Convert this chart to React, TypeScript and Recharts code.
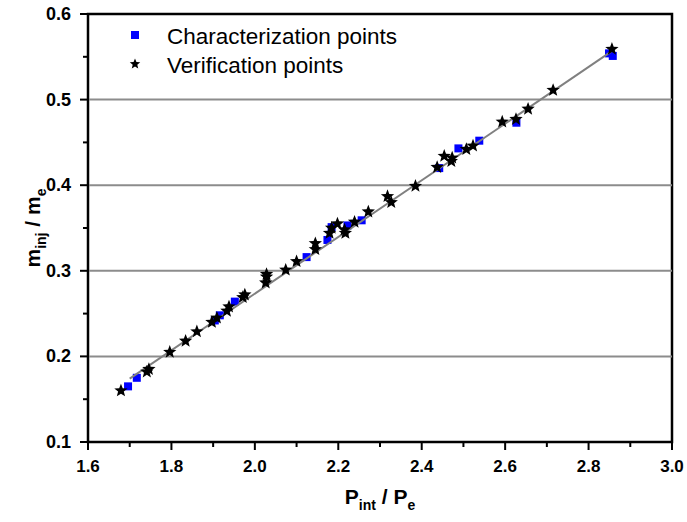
import React from "react";
import {
  ScatterChart,
  Scatter,
  XAxis,
  YAxis,
  ReferenceLine,
  ReferenceArea,
} from "recharts";

// Characterization points (blue squares)
const charX = [1.696, 1.717, 1.904, 1.916, 1.952, 2.124, 2.174, 2.184, 2.222, 2.256, 2.442, 2.488, 2.538, 2.627, 2.849, 2.858];
const charY = [0.165, 0.175, 0.242, 0.248, 0.264, 0.316, 0.336, 0.351, 0.353, 0.359, 0.420, 0.443, 0.452, 0.473, 0.554, 0.551];

// Verification points (black stars)
const verX = [1.679, 1.741, 1.746, 1.796, 1.834, 1.861, 1.897, 1.909, 1.933, 1.938, 1.971, 1.976, 2.026, 2.028, 2.028, 2.074, 2.100, 2.145, 2.145, 2.179, 2.184, 2.198, 2.215, 2.217, 2.239, 2.272, 2.318, 2.327, 2.385, 2.437, 2.454, 2.471, 2.473, 2.507, 2.523, 2.593, 2.626, 2.655, 2.715, 2.856];
const verY = [0.160, 0.182, 0.185, 0.205, 0.218, 0.229, 0.240, 0.245, 0.253, 0.258, 0.269, 0.272, 0.286, 0.293, 0.296, 0.301, 0.311, 0.325, 0.332, 0.344, 0.350, 0.355, 0.348, 0.344, 0.357, 0.369, 0.387, 0.380, 0.399, 0.421, 0.434, 0.428, 0.432, 0.442, 0.446, 0.474, 0.477, 0.489, 0.511, 0.559];

// Linear fit line end points
const fitX = [1.7, 2.854];
const fitY = [0.174, 0.556];

// Axis ticks
const xTicks = [1.6, 1.7, 1.8, 1.9, 2.0, 2.1, 2.2, 2.3, 2.4, 2.5, 2.6, 2.7, 2.8, 2.9, 3.0];
const xMajor = ["1.6", "1.8", "2.0", "2.2", "2.4", "2.6", "2.8", "3.0"];
const yTicks = [0.1, 0.15, 0.2, 0.25, 0.3, 0.35, 0.4, 0.45, 0.5, 0.55, 0.6];
const yMajor = ["0.1", "0.2", "0.3", "0.4", "0.5", "0.6"];
const gridY = [0.2, 0.3, 0.4, 0.5];

const charData = charX.map((x, i) => ({ x, y: charY[i] }));
const verData = verX.map((x, i) => ({ x, y: verY[i] }));
const fitData = fitX.map((x, i) => ({ x, y: fitY[i] }));

const FONT = "'Liberation Sans', Arial, sans-serif";

const starPoints = (cx: number, cy: number, R: number, r: number) => {
  const pts: string[] = [];
  for (let i = 0; i < 10; i++) {
    const rad = i % 2 === 0 ? R : r;
    const a = -Math.PI / 2 + (i * Math.PI) / 5;
    pts.push(`${cx + rad * Math.cos(a)},${cy + rad * Math.sin(a)}`);
  }
  return pts.join(" ");
};

const SquareShape = (p: any) => (
  <rect x={p.cx - 4} y={p.cy - 4} width={8} height={8} fill="#0000ff" />
);
const StarShape = (p: any) => (
  <polygon points={starPoints(p.cx, p.cy, 7, 3)} fill="#000" />
);
const NoShape = () => <g />;

const XTick = (p: any) => {
  const v = Number(p.payload.value).toFixed(1);
  const major = xMajor.includes(v);
  return (
    <g>
      <line x1={p.x} x2={p.x} y1={p.y} y2={p.y + (major ? 8 : 5)} stroke="#000" strokeWidth={2} />
      {major && (
        <text x={p.x} y={p.y + 30} textAnchor="middle" fontFamily={FONT} fontWeight="bold" fontSize={17} fill="#000">
          {v}
        </text>
      )}
    </g>
  );
};

const YTick = (p: any) => {
  const v = Number(p.payload.value).toFixed(2);
  const s = Number(p.payload.value).toFixed(1);
  const major = yMajor.includes(s) && v.endsWith("0");
  return (
    <g>
      <line x1={p.x - (major ? 8 : 5)} x2={p.x} y1={p.y} y2={p.y} stroke="#000" strokeWidth={2} />
      {major && (
        <text x={p.x - 17} y={p.y + 6} textAnchor="end" fontFamily={FONT} fontWeight="bold" fontSize={18} fill="#000">
          {s}
        </text>
      )}
    </g>
  );
};

const XTitle = (props: any) => {
  const vb = props.viewBox || {};
  const cx = (vb.x || 0) + (vb.width || 0) / 2;
  const y = (vb.y || 0) + 62;
  return (
    <text x={cx} y={y} textAnchor="middle" fontFamily={FONT} fontWeight="bold" fontSize={21} fill="#000">
      <tspan>P</tspan>
      <tspan fontSize={14} dy={6}>int</tspan>
      <tspan dy={-6}> / P</tspan>
      <tspan fontSize={14} dy={6}>e</tspan>
    </text>
  );
};

const YTitle = (props: any) => {
  const vb = props.viewBox || {};
  const cy = (vb.y || 0) + (vb.height || 0) / 2;
  const x = 40;
  return (
    <text
      x={x}
      y={cy}
      textAnchor="middle"
      transform={`rotate(-90 ${x} ${cy})`}
      fontFamily={FONT}
      fontWeight="bold"
      fontSize={21}
      fill="#000"
    >
      <tspan>m</tspan>
      <tspan fontSize={14} dy={6}>inj</tspan>
      <tspan dy={-6}> / m</tspan>
      <tspan fontSize={14} dy={6}>e</tspan>
    </text>
  );
};

export default function App() {
  return (
    <div style={{ position: "absolute", left: 0, top: 0, width: 687, height: 522, background: "#fff" }}>
      <ScatterChart width={687} height={522} margin={{ top: 14, right: 15, bottom: 0, left: 0 }}>
        <XAxis
          type="number"
          dataKey="x"
          domain={[1.6, 3.0]}
          ticks={xTicks}
          interval={0}
          height={80}
          tickSize={0}
          tickMargin={0}
          tickLine={false}
          axisLine={{ stroke: "#000", strokeWidth: 2 }}
          tick={<XTick />}
          allowDataOverflow
          label={<XTitle />}
        />
        <YAxis
          type="number"
          dataKey="y"
          domain={[0.1, 0.6]}
          ticks={yTicks}
          interval={0}
          width={88}
          tickSize={0}
          tickMargin={0}
          tickLine={false}
          axisLine={{ stroke: "#000", strokeWidth: 2 }}
          tick={<YTick />}
          allowDataOverflow
          label={<YTitle />}
        />
        {gridY.map((g) => (
          <ReferenceLine key={g} y={g} stroke="#8c8c8c" strokeWidth={2} />
        ))}
        <Scatter name="Characterization points" data={charData} shape={<SquareShape />} isAnimationActive={false} />
        <Scatter
          name="fit"
          data={fitData}
          line={{ stroke: "#808080", strokeWidth: 2 }}
          shape={<NoShape />}
          isAnimationActive={false}
        />
        <Scatter name="Verification points" data={verData} shape={<StarShape />} isAnimationActive={false} />
        <ReferenceArea x1={1.6} x2={3.0} y1={0.1} y2={0.6} fill="none" fillOpacity={0} stroke="#000" strokeWidth={2.5} />
      </ScatterChart>
      <svg width={687} height={522} style={{ position: "absolute", left: 0, top: 0, pointerEvents: "none" }}>
        <rect x={131} y={31} width={8} height={8} fill="#0000ff" />
        <text x={167} y={44} fontFamily={FONT} fontSize={22.5} fill="#000">Characterization points</text>
        <polygon points={starPoints(135, 64, 5.5, 2.4)} fill="#000" />
        <text x={167} y={73} fontFamily={FONT} fontSize={22.5} fill="#000">Verification points</text>
      </svg>
    </div>
  );
}
